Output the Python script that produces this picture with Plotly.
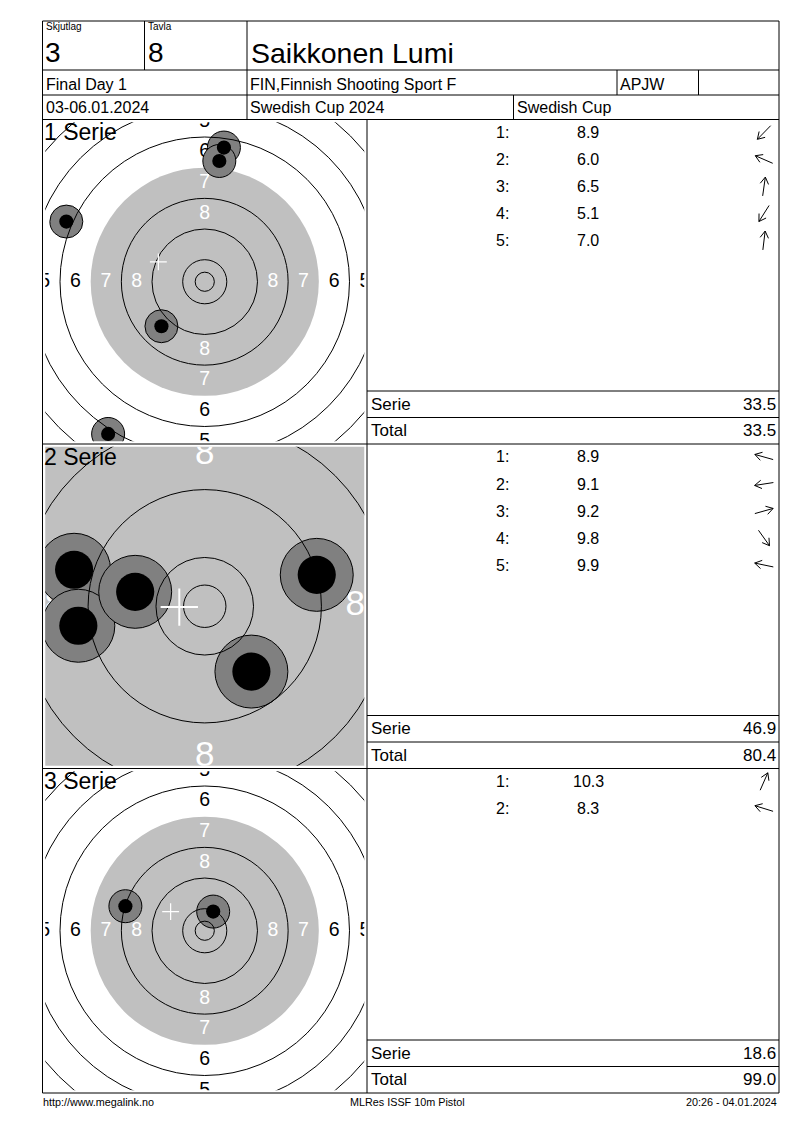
import math
import plotly.graph_objects as go

W, H = 784, 1114   # page is shown with an 8px body margin
OFF = 8
FONT = "Liberation Sans, Arial, sans-serif"

# header info
squad_label, squad = "Skjutlag", "3"
lane_label, lane = "Tavla", "8"
shooter = "Saikkonen Lumi"
event = "Final Day 1"
club = "FIN,Finnish Shooting Sport F"
shooter_class = "APJW"
dates = "03-06.01.2024"
competition = "Swedish Cup 2024"
competition_short = "Swedish Cup"
footer_left = "http://www.megalink.no"
footer_mid = "MLRes ISSF 10m Pistol"
footer_right = "20:26 - 04.01.2024"

# ISSF 10m pistol target, ring 1..10 diameters (mm)
ring_numbers = [1, 2, 3, 4, 5, 6, 7, 8, 9, 10]
ring_diameters = [155.5, 139.5, 123.5, 107.5, 91.5, 75.5, 59.5, 43.5, 27.5, 11.5]
inner_ten_diameter = 5.0
black_diameter = 59.5

# shots, mm from centre (x right, y up)
s1_x = [-11.3, -36.1, 5.0, -25.2, 3.8]
s1_y = [-11.6, 15.7, 35.0, -39.7, 31.5]
s1_scores = [8.9, 6.0, 6.5, 5.1, 7.0]

s2_x = [-15.4, -14.9, 13.2, 5.5, -8.2]
s2_y = [4.3, -2.3, 3.7, -7.7, 1.7]
s2_scores = [8.9, 9.1, 9.2, 9.8, 9.9]

s3_x = [2.2, -20.7]
s3_y = [5.0, 6.4]
s3_scores = [10.3, 8.3]

# mean point of impact (white cross)
mpi_x = [-12.1, -3.0, -8.9]
mpi_y = [5.2, -0.1, 5.0]

series_names = ["1 Serie", "2 Serie", "3 Serie"]


def X(px):
    return (px - OFF) / W


def Y(py):
    return 1 - (py - OFF) / H


# page geometry (px in the window)
L, R, T, B = 42.5, 779, 21, 1093
DIV = 367
panel_tops = [119.5, 444, 768.5]
panel_bots = [444, 768.5, 1093]
# half view (mm), ring label size, dot radius (mm), cross width
panels = [
    dict(half=41.6, lab=19.5, dot=1.85, cw=1.2),
    dict(half=18.8, lab=35, dot=2.25, cw=2),
    dict(half=41.6, lab=19.5, dot=1.85, cw=1.2),
]
series = [(s1_x, s1_y, s1_scores), (s2_x, s2_y, s2_scores), (s3_x, s3_y, s3_scores)]

fig = go.Figure()
shapes = []
ann = []


def line(x0, y0, x1, y1, color="black", width=1):
    shapes.append(dict(type="line", xref="paper", yref="paper",
                       x0=X(x0), y0=Y(y0), x1=X(x1), y1=Y(y1),
                       line=dict(color=color, width=width), layer="above"))


def text(t, x, y, size, anchor="left", color="black"):
    ann.append(dict(text=t, x=X(x), y=Y(y), xref="paper", yref="paper",
                    xanchor=anchor, yanchor="middle", showarrow=False,
                    font=dict(family=FONT, size=size, color=color)))


# table lines
line(L, T, R, T); line(L, B, R, B); line(L, T, L, B); line(R, T, R, B)
for yy in [70, 95, 119.5, 444, 768.5]:
    line(L, yy, R, yy)
line(144.5, T, 144.5, 70)
line(247, T, 247, 119.5)
line(617, 70, 617, 95)
line(698.5, 70, 698.5, 95)
line(513.5, 95, 513.5, 119.5)
line(DIV, 119.5, DIV, B)

# header texts
text(squad_label, 43.5, 27, 10)
text(squad, 43, 52.5, 28)
text(lane_label, 146, 27, 10)
text(lane, 146, 52.5, 28)
text(shooter, 248.5, 52.5, 28.5)
text(event, 43.5, 84.5, 16)
text(club, 248, 84.5, 16)
text(shooter_class, 617.5, 84.5, 16)
text(dates, 43.5, 107.5, 16)
text(competition, 248, 107.5, 16)
text(competition_short, 514.5, 107.5, 16)

text(footer_left, 41, 1102, 10.8)
text(footer_mid, 407, 1102, 10.8, "center")
text(footer_right, 779, 1102, 10.8, "right")

layout_axes = {}
total = 0.0
for k, (sx, sy, scores) in enumerate(series):
    p = panels[k]
    top, bot = panel_tops[k], panel_bots[k]
    cx, cy = (L + DIV) / 2, (top + bot) / 2
    side = 319
    n = "" if k == 0 else str(k + 1)
    xa, ya = "x" + n, "y" + n
    layout_axes["xaxis" + n] = dict(domain=[X(cx - side / 2), X(cx + side / 2)],
                                    range=[-p["half"], p["half"]], visible=False,
                                    fixedrange=True, anchor=ya)
    layout_axes["yaxis" + n] = dict(domain=[Y(cy + side / 2), Y(cy - side / 2)],
                                    range=[-p["half"], p["half"]], visible=False,
                                    fixedrange=True, anchor=xa)

    def circ(r, x=0, y=0, fill=None, lc="black", lw=1, layer="above"):
        shapes.append(dict(type="circle", xref=xa, yref=ya,
                           x0=x - r, x1=x + r, y0=y - r, y1=y + r,
                           fillcolor=fill if fill else "rgba(0,0,0,0)",
                           line=dict(color=lc, width=lw), layer=layer))

    # black aiming area (drawn grey)
    circ(black_diameter / 2, fill="#C0C0C0", lw=0, layer="below")

    # ring numbers
    lx, ly, lt, lc = [], [], [], []
    for i, rn in enumerate(ring_numbers[:8]):
        m = (ring_diameters[i] + ring_diameters[i + 1]) / 4
        col = "white" if ring_diameters[i] <= black_diameter else "black"
        for dx, dy in [(-m, 0), (m, 0), (0, m), (0, -m)]:
            lx.append(dx); ly.append(dy); lt.append(str(rn)); lc.append(col)
    fig.add_trace(go.Scatter(x=lx, y=ly, text=lt, mode="text", xaxis=xa, yaxis=ya,
                             textfont=dict(family=FONT, size=p["lab"], color=lc),
                             cliponaxis=True, hoverinfo="skip", showlegend=False))

    # shot halos, ring lines, shot holes
    for x, y in zip(sx, sy):
        circ(4.3, x, y, fill="#808080", lw=1)
    for d in ring_diameters + [inner_ten_diameter]:
        if d != black_diameter:
            circ(d / 2, lw=1)
    for x, y in zip(sx, sy):
        circ(p["dot"], x, y, fill="black", lw=0)

    # mean point of impact
    for (x0, y0, x1, y1) in [(-2.2, 0, 2.2, 0), (0, -2.2, 0, 2.2)]:
        shapes.append(dict(type="line", xref=xa, yref=ya,
                           x0=mpi_x[k] + x0, x1=mpi_x[k] + x1,
                           y0=mpi_y[k] + y0, y1=mpi_y[k] + y1,
                           line=dict(color="white", width=p["cw"]), layer="above"))

    text(series_names[k], 41.5, top + 12.5, 23)

    # shot list
    for i, (x, y, s) in enumerate(zip(sx, sy, scores)):
        ry = top + 13 + 27 * i
        text(f"{i + 1}:", 511, ry, 16, "right")
        text(f"{s:.1f}", 588, ry, 16, "center")
        th = math.atan2(y, x)
        ax, ay = 764, ry
        dx, dy = math.cos(th), -math.sin(th)
        tipx, tipy = ax + 9.5 * dx, ay + 9.5 * dy
        line(ax - 9.5 * dx, ay - 9.5 * dy, tipx, tipy)
        for a in (0.55, -0.55):
            bx = math.cos(th + math.pi + a)
            by = -math.sin(th + math.pi + a)
            line(tipx, tipy, tipx + 8 * bx, tipy + 8 * by)

    serie_sum = round(sum(scores), 1)
    total = round(total + serie_sum, 1)
    line(DIV, bot - 53, R, bot - 53)
    line(DIV, bot - 26.5, R, bot - 26.5)
    text("Serie", 368.5, bot - 40, 17)
    text(f"{serie_sum:.1f}", 777.5, bot - 40, 17, "right")
    text("Total", 368.5, bot - 13.5, 17)
    text(f"{total:.1f}", 777.5, bot - 13.5, 17, "right")

fig.update_layout(
    width=W, height=H,
    margin=dict(l=0, r=0, t=0, b=0),
    paper_bgcolor="white", plot_bgcolor="white",
    showlegend=False,
    shapes=shapes, annotations=ann,
    **layout_axes,
)

fig.write_html("out.html", config={"displayModeBar": False})
